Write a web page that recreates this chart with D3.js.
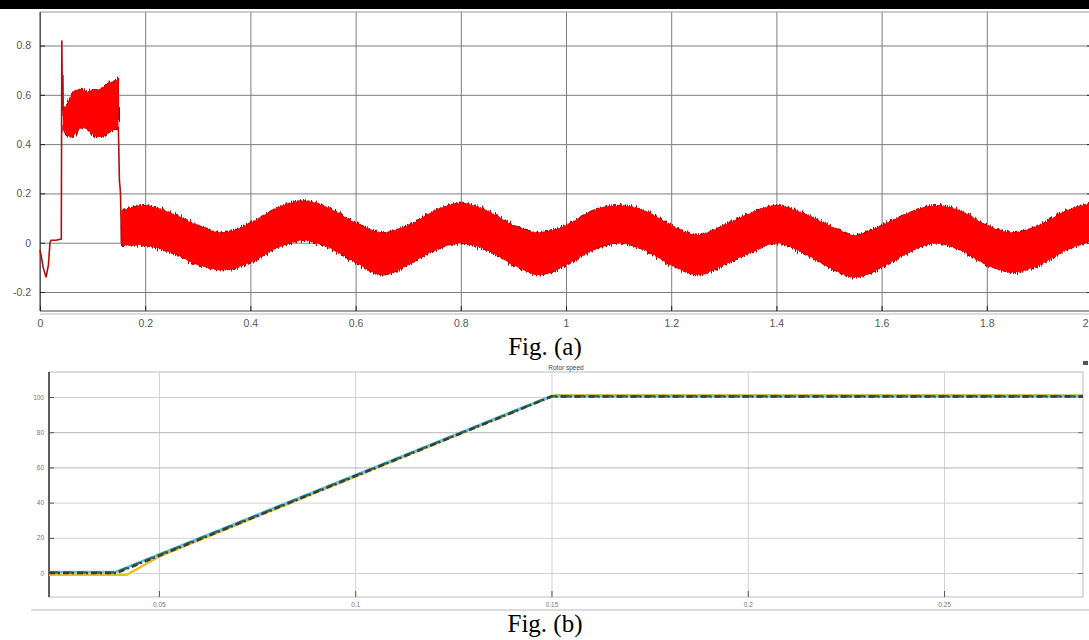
<!DOCTYPE html>
<html>
<head>
<meta charset="utf-8">
<script src="https://cdn.jsdelivr.net/npm/d3@7"></script>
<style>
	body { margin: 0; background: #fff; }
	svg { display: block; }
</style>
</head>
<body>
<svg id="fig" width="1089" height="640"></svg>
<script>
// ---- Fig. (a) ----
const aXTicks = [0, 0.2, 0.4, 0.6, 0.8, 1, 1.2, 1.4, 1.6, 1.8, 2];
const aYTicks = [-0.2, 0, 0.2, 0.4, 0.6, 0.8];

// single trace before the first band
const startT = [0, 0.002, 0.006, 0.0115, 0.016, 0.019, 0.021, 0.03, 0.0405, 0.0415, 0.0425, 0.0435, 0.044];
const startV = [-0.03, -0.05, -0.1, -0.14, -0.09, 0.0, 0.01, 0.01, 0.015, 0.82, 0.6, 0.68, 0.56];

// first band (envelope)
const band1T = [0.044, 0.05, 0.06, 0.07, 0.08, 0.09, 0.10, 0.11, 0.12, 0.13, 0.14, 0.149];
const band1Hi = [0.56, 0.55, 0.6, 0.62, 0.62, 0.61, 0.62, 0.62, 0.63, 0.65, 0.65, 0.67];
const band1Lo = [0.46, 0.44, 0.43, 0.45, 0.47, 0.46, 0.44, 0.43, 0.43, 0.45, 0.46, 0.46];

// the drop between the bands
const dropT = [0.149, 0.151, 0.152, 0.153, 0.155];
const dropV = [0.47, 0.25, 0.23, 0.2, 0.0];

// second band (envelope)
const band2T = [0.155, 0.2, 0.25, 0.3, 0.35, 0.4, 0.45, 0.5, 0.55, 0.6, 0.65, 0.7, 0.75, 0.8, 0.85, 0.9, 0.95, 1.0,
	1.05, 1.1, 1.15, 1.2, 1.25, 1.3, 1.35, 1.4, 1.45, 1.5, 1.55, 1.6, 1.65, 1.7, 1.75, 1.8, 1.85, 1.9, 1.95, 2.0];
const band2Hi = [0.13, 0.15, 0.12, 0.07, 0.04, 0.08, 0.14, 0.17, 0.14, 0.08, 0.04, 0.07, 0.13, 0.16, 0.13, 0.07, 0.04, 0.07,
	0.13, 0.15, 0.13, 0.07, 0.03, 0.07, 0.12, 0.15, 0.12, 0.07, 0.03, 0.07, 0.12, 0.15, 0.13, 0.07, 0.04, 0.07, 0.13, 0.16];
const band2Lo = [-0.01, -0.01, -0.04, -0.09, -0.11, -0.08, -0.02, 0.01, -0.02, -0.08, -0.13, -0.09, -0.03, 0.0, -0.03, -0.09, -0.13, -0.09,
	-0.03, 0.0, -0.03, -0.09, -0.13, -0.09, -0.04, 0.0, -0.04, -0.1, -0.14, -0.1, -0.04, 0.0, -0.03, -0.09, -0.12, -0.09, -0.03, 0.01];

// ---- Fig. (b) : Rotor speed ----
const bXTicks = [0.05, 0.1, 0.15, 0.2, 0.25];
const bYTicks = [0, 20, 40, 60, 80, 100];

const yellowT = [0.022, 0.0418, 0.05, 0.151, 0.2854];
const yellowV = [-1, -1, 9.3, 101.1, 101.0];
const cyanT = [0.022, 0.039, 0.15, 0.2854];
const cyanV = [0.6, 0.6, 100.6, 100.6];
const greenT = [0.022, 0.039, 0.15, 0.2854];
const greenV = [0.3, 0.3, 100.4, 100.4];
const darkT = [0.022, 0.0392, 0.15, 0.2854];
const darkV = [0, 0, 100.2, 100.2];


const svg = d3.select("#fig");

svg.append("rect").attr("width", 1089).attr("height", 640).attr("fill", "#fff");
svg.append("rect").attr("width", 1089).attr("height", 9).attr("fill", "#000");

let defs = svg.append("defs");
let rough = defs.append("filter").attr("id", "rough")
	.attr("x", "-2%").attr("y", "-20%").attr("width", "104%").attr("height", "140%");
rough.append("feTurbulence")
	.attr("type", "fractalNoise")
	.attr("baseFrequency", "0.8 0.04")
	.attr("numOctaves", 2)
	.attr("seed", 7)
	.attr("result", "noise");
rough.append("feDisplacementMap")
	.attr("in", "SourceGraphic")
	.attr("in2", "noise")
	.attr("scale", 7)
	.attr("xChannelSelector", "R")
	.attr("yChannelSelector", "G");


drawFigA();
drawFigB();


function drawFigA() {
	let left = 40, right = 1092, top = 12, bottom = 311;
	let x = d3.scaleLinear().domain([0, 2]).range([left, right]);
	let y = d3.scaleLinear().domain([-0.277, 0.936]).range([bottom, top]);

	let g = svg.append("g");

	// grid
	g.append("g")
		.attr("transform", `translate(0,${bottom})`)
		.call(d3.axisBottom(x).tickValues(aXTicks).tickSize(-(bottom - top)).tickFormat(""))
		.call(s => s.select(".domain").remove())
		.call(s => s.selectAll("line").attr("stroke", "#7d7d7d"));
	g.append("g")
		.attr("transform", `translate(${left},0)`)
		.call(d3.axisLeft(y).tickValues(aYTicks).tickSize(-(right - left)).tickFormat(""))
		.call(s => s.select(".domain").remove())
		.call(s => s.selectAll("line").attr("stroke", "#7d7d7d"));

	// frame
	g.append("line").attr("x1", left).attr("x2", right).attr("y1", top).attr("y2", top)
		.attr("stroke", "#999");
	g.append("line").attr("x1", left).attr("x2", right).attr("y1", bottom).attr("y2", bottom)
		.attr("stroke", "#444");
	g.append("line").attr("x1", left).attr("x2", right).attr("y1", bottom + 3).attr("y2", bottom + 3)
		.attr("stroke", "#ddd").attr("stroke-width", 2);
	g.append("line").attr("x1", left).attr("x2", left).attr("y1", top).attr("y2", bottom)
		.attr("stroke", "#333");

	// tick marks and labels
	let xa = g.append("g")
		.attr("transform", `translate(0,${bottom})`)
		.call(d3.axisBottom(x).tickValues(aXTicks).tickSize(-5).tickPadding(9).tickFormat(d => String(d)));
	xa.select(".domain").remove();
	xa.selectAll("line").attr("stroke", "#222");
	xa.selectAll("text").attr("fill", "#555").attr("font-size", 10.5).attr("font-family", "Liberation Sans, Arial, sans-serif");
	// last label sits on the right edge of the picture
	xa.selectAll("text").filter(d => d == 2).attr("text-anchor", "end").attr("dx", -4);

	let ya = g.append("g")
		.attr("transform", `translate(${left},0)`)
		.call(d3.axisLeft(y).tickValues(aYTicks).tickSize(-5).tickPadding(9).tickFormat(d => String(d)));
	ya.select(".domain").remove();
	ya.selectAll("line").attr("stroke", "#222");
	ya.selectAll("text").attr("fill", "#555").attr("font-size", 10.5).attr("font-family", "Liberation Sans, Arial, sans-serif");

	// right side ticks
	g.append("g")
		.attr("transform", `translate(${right},0)`)
		.call(d3.axisRight(y).tickValues(aYTicks).tickSize(-5).tickFormat(""))
		.call(s => s.select(".domain").remove())
		.call(s => s.selectAll("line").attr("stroke", "#222"));

	// signal
	let line = d3.line().x(d => x(d[0])).y(d => y(d[1]));
	let area = d3.area()
		.x(d => x(d[0]))
		.y0(d => y(d[2]))
		.y1(d => y(d[1]))
		.curve(d3.curveCatmullRom);

	let band1 = band1T.map((t, i) => [t, band1Hi[i], band1Lo[i]]);
	let band2 = band2T.map((t, i) => [t, band2Hi[i], band2Lo[i]]);

	let sig = g.append("g");
	[band1, band2].forEach(b => {
		sig.append("path")
			.attr("d", area(b))
			.attr("fill", "#ff0000")
			.attr("stroke", "#b00000")
			.attr("stroke-width", 1.5)
			.attr("filter", "url(#rough)");
		sig.append("path")
			.attr("d", area(b))
			.attr("fill", "#ff0000")
			.attr("stroke", "none");
	});

	sig.append("path")
		.attr("d", line(startT.map((t, i) => [t, startV[i]])))
		.attr("fill", "none")
		.attr("stroke", "#b01010")
		.attr("stroke-width", 1.6);
	sig.append("path")
		.attr("d", line(dropT.map((t, i) => [t, dropV[i]])))
		.attr("fill", "none")
		.attr("stroke", "#b01010")
		.attr("stroke-width", 1.6);

	svg.append("text")
		.attr("x", 545).attr("y", 355)
		.attr("text-anchor", "middle")
		.attr("font-family", "Liberation Serif, Times New Roman, serif")
		.attr("font-size", 25)
		.attr("fill", "#000")
		.text("Fig. (a)");
}


function drawFigB() {
	let left = 49, right = 1083, top = 372, bottom = 597;
	let x = d3.scaleLinear().domain([0.022, 0.2854]).range([left, right]);
	let y = d3.scaleLinear().domain([-13.6, 114.2]).range([bottom, top]);

	let g = svg.append("g");

	g.append("rect")
		.attr("x", left).attr("y", top)
		.attr("width", right - left).attr("height", bottom - top)
		.attr("fill", "#fff").attr("stroke", "#bbb");

	// grid
	g.append("g")
		.attr("transform", `translate(0,${bottom})`)
		.call(d3.axisBottom(x).tickValues(bXTicks).tickSize(-(bottom - top)).tickFormat(""))
		.call(s => s.select(".domain").remove())
		.call(s => s.selectAll("line").attr("stroke", "#d2d2d2"));
	g.append("g")
		.attr("transform", `translate(${left},0)`)
		.call(d3.axisLeft(y).tickValues(bYTicks).tickSize(-(right - left)).tickFormat(""))
		.call(s => s.select(".domain").remove())
		.call(s => s.selectAll("line").attr("stroke", (d) => d == 60 || d == 80 ? "#b4b4b4" : "#d2d2d2"));

	g.append("line").attr("x1", left).attr("x2", left).attr("y1", top).attr("y2", bottom)
		.attr("stroke", "#333").attr("stroke-width", 1.5);

	let xa = g.append("g")
		.attr("transform", `translate(0,${bottom})`)
		.call(d3.axisBottom(x).tickValues(bXTicks).tickSize(-6).tickPadding(5).tickFormat(d => String(d)));
	xa.select(".domain").remove();
	xa.selectAll("line").attr("stroke", "#555");
	xa.selectAll("text").attr("fill", "#777").attr("font-size", 6.5).attr("font-family", "Liberation Sans, Arial, sans-serif");

	let ya = g.append("g")
		.attr("transform", `translate(${left},0)`)
		.call(d3.axisLeft(y).tickValues(bYTicks).tickSize(-5).tickPadding(5).tickFormat(d => String(d)));
	ya.select(".domain").remove();
	ya.selectAll("line").attr("stroke", "#555");
	ya.selectAll("text").attr("fill", "#777").attr("font-size", 6.5).attr("font-family", "Liberation Sans, Arial, sans-serif");

	g.append("g")
		.attr("transform", `translate(${right},0)`)
		.call(d3.axisRight(y).tickValues(bYTicks).tickSize(-5).tickFormat(""))
		.call(s => s.select(".domain").remove())
		.call(s => s.selectAll("line").attr("stroke", "#777"));

	// line below the axes
	g.append("line").attr("x1", 31).attr("x2", 1089).attr("y1", 610).attr("y2", 610)
		.attr("stroke", "#d0d0d0").attr("stroke-width", 1.5);

	// title and corner marker
	g.append("text")
		.attr("x", (left + right) / 2).attr("y", 370)
		.attr("text-anchor", "middle")
		.attr("font-family", "Liberation Sans, Arial, sans-serif")
		.attr("font-size", 6.5)
		.attr("fill", "#444")
		.text("Rotor speed");
	g.append("rect").attr("x", 1083).attr("y", 361).attr("width", 5).attr("height", 4).attr("fill", "#555");

	let line = d3.line().x(d => x(d[0])).y(d => y(d[1]));
	let series = [
		{ t: yellowT, v: yellowV, color: "#e8c020", width: 2.2, dash: null },
		{ t: cyanT, v: cyanV, color: "#5ec3ea", width: 2.6, dash: null },
		{ t: greenT, v: greenV, color: "#2f6f5a", width: 2.4, dash: "9,5" },
		{ t: darkT, v: darkV, color: "#3b3b3b", width: 2.4, dash: "6,3,2,3" }
	];
	series.forEach(s => {
		g.append("path")
			.attr("d", line(s.t.map((t, i) => [t, s.v[i]])))
			.attr("fill", "none")
			.attr("stroke", s.color)
			.attr("stroke-width", s.width)
			.attr("stroke-dasharray", s.dash);
	});

	svg.append("text")
		.attr("x", 545).attr("y", 632)
		.attr("text-anchor", "middle")
		.attr("font-family", "Liberation Serif, Times New Roman, serif")
		.attr("font-size", 25)
		.attr("fill", "#000")
		.text("Fig. (b)");
}
</script>
</body>
</html>
